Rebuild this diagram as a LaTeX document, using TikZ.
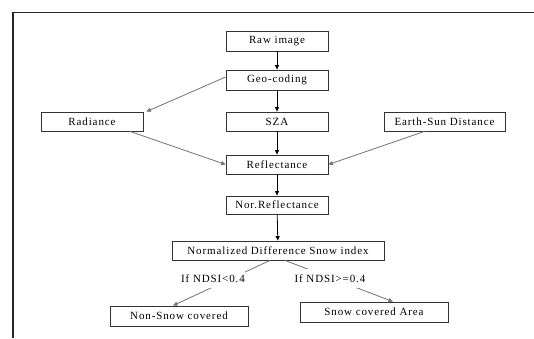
\documentclass[tikz,border=0pt]{standalone}
\usepackage{fontspec}
\setmainfont{Liberation Serif}[LetterSpace=8]
\usetikzlibrary{arrows.meta}
\begin{document}
\begin{tikzpicture}[x=1pt,y=-1pt,
  box/.style={draw=black!80,line width=0.8pt,minimum width=102pt,minimum height=19pt,inner sep=0pt,font=\fontsize{11}{12}\selectfont},
  lbl/.style={fill=white,inner sep=0pt,minimum height=19pt,font=\fontsize{11}{12}\selectfont},
  varr/.style={line width=0.8pt,-{Triangle[length=4.5pt,width=4pt]}},
  darr/.style={draw=black!55,line width=0.8pt,-{Triangle[length=4.5pt,width=4pt]}}]
\useasboundingbox (0,0) rectangle (534,338);
\draw[black!85,line width=1.8pt] (534,12.5) -- (13,12.5) -- (13,338);
\node[box,minimum height=20pt] (raw) at (277,41) {Raw image};
\node[box,minimum height=20pt] (geo) at (277,80) {Geo-coding};
\node[box] (sza) at (277,121.5) {SZA};
\node[box] (rad) at (92,121.5) {Radiance};
\node[box,minimum width=121pt] (esd) at (444.5,121.5) {Earth-Sun Distance};
\node[box] (refl) at (277,164.5) {Reflectance};
\node[box,minimum height=18pt] (nref) at (277,205) {Nor.Reflectance};
\node[box,minimum width=212pt] (ndsi) at (278,250.5) {Normalized Difference Snow index};
\node[box,minimum width=138pt,minimum height=20pt] (non) at (179,316) {Non-Snow covered};
\node[box,minimum width=148pt,minimum height=20pt] (snow) at (374,312) {Snow covered Area};
\draw[varr] (raw) -- (geo);
\draw[varr] (geo) -- (sza);
\draw[varr] (sza) -- (refl);
\draw[varr] (refl) -- (nref);
\draw[varr] (nref) -- (ndsi);
\draw[darr] ([yshift=3pt]geo.west) -- ([xshift=3pt]rad.north east);
\draw[darr] ([xshift=38pt]rad.south) -- (refl.west);
\draw[darr] ([xshift=-20pt]esd.south) -- (refl.east);
\draw[darr] ([xshift=-8pt]ndsi.south) -- ([xshift=-6pt]non.north);
\draw[darr] ([xshift=7pt]ndsi.south) -- ([xshift=19pt]snow.north);
\node[lbl] (ifl) at (213,278.5) {If NDSI<0.4};
\node[lbl] (ifr) at (330,278.5) {If NDSI>=0.4};
\end{tikzpicture}
\end{document}
